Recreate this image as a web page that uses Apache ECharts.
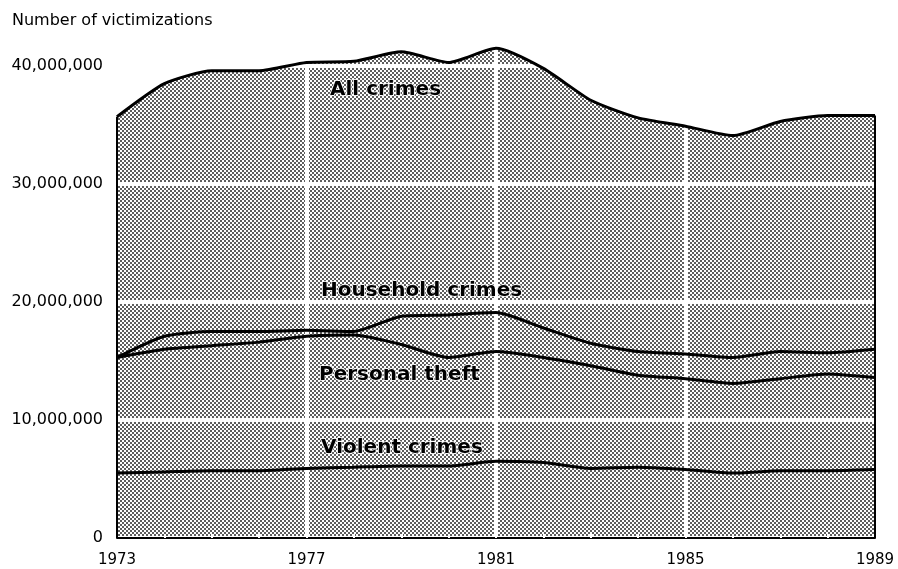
<!DOCTYPE html>
<html>
<head>
<meta charset="utf-8">
<script src="https://cdn.jsdelivr.net/npm/echarts@6/dist/echarts.min.js"></script>
<style>
html,body{margin:0;padding:0;background:#fff;}
#chart{width:898px;height:569px;}
</style>
</head>
<body>
<div id="chart"></div>
<script>
// ---- data ----
var years = ['1973','1974','1975','1976','1977','1978','1979','1980','1981','1982','1983','1984','1985','1986','1987','1988','1989'];
var allCrimes = [35700000,38500000,39600000,39600000,40300000,40400000,41200000,40300000,41500000,39800000,37100000,35600000,34900000,34100000,35300000,35800000,35800000];
var householdCrimes = [15300000,17100000,17500000,17500000,17600000,17500000,18800000,18900000,19100000,17800000,16500000,15800000,15600000,15300000,15800000,15700000,16000000];
var personalTheft = [15300000,16000000,16300000,16600000,17100000,17200000,16400000,15300000,15800000,15300000,14600000,13800000,13500000,13100000,13500000,13900000,13600000];
var violentCrimes = [5500000,5600000,5700000,5700000,5900000,6000000,6100000,6100000,6500000,6400000,5900000,6000000,5800000,5500000,5700000,5700000,5800000];
var yTicks = [0,10000000,20000000,30000000,40000000];
var xLabelYears = ['1973','1977','1981','1985','1989'];
var seriesNames = ['All crimes','Household crimes','Personal theft','Violent crimes'];
var axisTitle = 'Number of victimizations';

// ---- stipple pattern ----
var pc = document.createElement('canvas');
pc.width = 4; pc.height = 4;
var pctx = pc.getContext('2d');
pctx.fillStyle = '#ffffff'; pctx.fillRect(0,0,4,4);
pctx.fillStyle = '#5e5e5e';
pctx.fillRect(0,0,2,2); pctx.fillRect(2,2,2,2);

var chart = echarts.init(document.getElementById('chart'), null, {renderer:'canvas'});
var last = years.length - 1;

function lineSeries(name, data) {
  return {
    name: name, type: 'line', data: data, z: 3,
    symbol: 'none', smooth: 0.2, silent: true,
    lineStyle: {color: '#000', width: 3}
  };
}

var labelFont = 'bold 20px "DejaVu Sans"';

var option = {
  animation: false,
  backgroundColor: '#ffffff',
  grid: {left: 117, right: 23, top: 7, bottom: 31, containLabel: false},
  xAxis: {
    type: 'category', data: years, boundaryGap: false, z: 2,
    axisLine: {show: true, lineStyle: {color: '#000', width: 2}},
    axisTick: {show: true, inside: true, interval: 0, length: 4, lineStyle: {color: '#fff', width: 2}},
    axisLabel: {
      interval: 0, margin: 15, color: '#000', fontFamily: 'DejaVu Sans', fontSize: 15,
      formatter: function (v) { return xLabelYears.indexOf(v) >= 0 ? v : ''; }
    },
    splitLine: {
      show: true,
      interval: function (idx) { return idx % 4 === 0 && idx > 0 && idx < last; },
      lineStyle: {color: '#fff', width: 4}
    }
  },
  yAxis: {
    type: 'value', min: 0, max: 45000000, interval: 10000000, z: 2,
    axisLine: {show: false}, axisTick: {show: false},
    axisLabel: {
      margin: 14, color: '#000', fontFamily: 'DejaVu Sans', fontSize: 16,
      formatter: function (v) { return yTicks.indexOf(v) >= 0 ? v.toLocaleString('en-US') : ''; }
    },
    splitLine: {show: true, lineStyle: {color: '#fff', width: 4}}
  },
  series: [
    {
      name: seriesNames[0] + ' area', type: 'line', data: allCrimes, z: 1,
      symbol: 'none', smooth: 0.2, silent: true,
      lineStyle: {width: 0, opacity: 0},
      areaStyle: {color: {image: pc, repeat: 'repeat'}, opacity: 1},
      markLine: {
        silent: true, symbol: 'none', label: {show: false},
        lineStyle: {color: '#000', width: 2, type: 'solid'},
        data: [
          [{coord: [years[0], 0]}, {coord: [years[0], allCrimes[0]]}],
          [{coord: [years[last], 0]}, {coord: [years[last], allCrimes[last]]}]
        ]
      }
    },
    lineSeries(seriesNames[0], allCrimes),
    lineSeries(seriesNames[1], householdCrimes),
    lineSeries(seriesNames[2], personalTheft),
    lineSeries(seriesNames[3], violentCrimes)
  ],
  graphic: [
    {type: 'text', left: 12, top: 13, z: 10,
     style: {text: axisTitle, fill: '#000', font: '16px "DejaVu Sans"'}},
    {type: 'text', x: 330, y: 90, z: 10,
     style: {text: seriesNames[0], fill: '#000', font: labelFont, verticalAlign: 'middle', stroke: '#fff', lineWidth: 1.5}},
    {type: 'text', x: 321, y: 291, z: 10,
     style: {text: seriesNames[1], fill: '#000', font: labelFont, verticalAlign: 'middle', stroke: '#fff', lineWidth: 1.5}},
    {type: 'text', x: 319, y: 375, z: 10,
     style: {text: seriesNames[2], fill: '#000', font: labelFont, verticalAlign: 'middle', stroke: '#fff', lineWidth: 1.5}},
    {type: 'text', x: 321, y: 448, z: 10,
     style: {text: seriesNames[3], fill: '#000', font: labelFont, verticalAlign: 'middle', stroke: '#fff', lineWidth: 1.5}}
  ]
};
chart.setOption(option);
</script>
</body>
</html>
